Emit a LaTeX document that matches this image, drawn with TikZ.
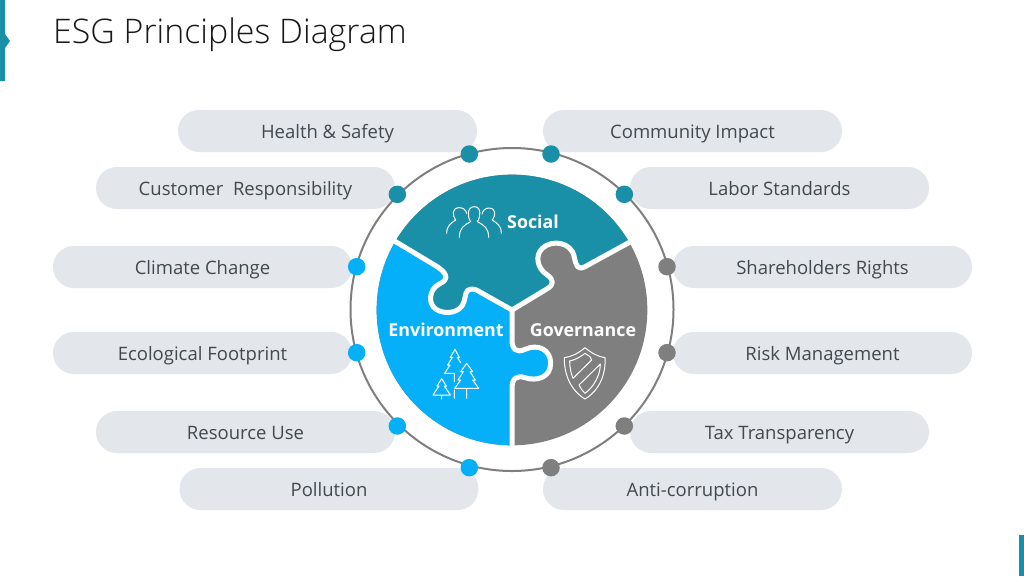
\documentclass[tikz,border=0pt]{standalone}
\usepackage{fontspec}
\setmainfont{Open Sans}
\newfontfamily\titlefont{Open Sans Light}
\definecolor{teal1}{HTML}{1A90A8}
\definecolor{blue1}{HTML}{05B0F8}
\definecolor{grey1}{HTML}{7F7F7F}
\definecolor{pill}{HTML}{E3E6EB}
\definecolor{ink}{HTML}{404A50}
\tikzset{
  pillbox/.style={fill=pill,rounded corners=20.9pt,minimum width=299pt,minimum height=42pt,inner sep=0pt,text=ink,text height=18.5pt,text depth=4pt,font=\fontsize{18.5}{22}\selectfont},
  dot/.style={circle,inner sep=0pt,minimum size=17.5pt},
  seg/.style={text=white,text height=16pt,text depth=4pt,font=\fontsize{17.8}{20}\selectfont\bfseries,inner sep=0pt},
  gap/.style={draw=white,line width=5pt,line join=round},
  icon/.style={draw=white,line width=1pt,line join=round,line cap=round},
  zoomed/.style={shift={(340,140)},x=0.33333pt,y=-0.33333pt}
}
\newcommand{\borderSE}{(150,295) -- (280,373) .. controls (322,397) and (330,417) .. (298,432) .. controls (268,447) and (262,490) .. (288,508) .. controls (315,525) and (362,520) .. (372,485) .. controls (378,465) and (375,448) .. (395,447) .. controls (405,447) and (410,450) .. (420,456) -- (516,510)}
\newcommand{\borderSG}{(516,510) -- (622,446) .. controls (642,434) and (642,420) .. (622,405) .. controls (590,385) and (585,345) .. (607,325) .. controls (635,298) and (695,305) .. (703,352) .. controls (708,375) and (712,392) .. (735,380) -- (890,295)}
\newcommand{\borderEG}{(516,510) -- (516,600) .. controls (516,628) and (530,640) .. (555,628) .. controls (595,610) and (632,630) .. (632,670) .. controls (632,712) and (590,725) .. (555,713) .. controls (530,705) and (516,715) .. (516,745) -- (516,930)}
\begin{document}
\begin{tikzpicture}[x=1pt,y=-1pt]
\useasboundingbox (0,0) rectangle (1024,576);
\fill[white] (0,0) rectangle (1024,576);
% accents
\fill[teal1] (0,0) -- (5,0) -- (5,34) -- (10,41) -- (5,48) -- (5,81) -- (0,81) -- cycle;
\fill[teal1] (1019,535) rectangle (1024,576);
\node[anchor=base west,inner sep=0pt,text=black!90] (title) at (53,43) {\titlefont\fontsize{33.9}{38}\selectfont ESG Principles Diagram};
% pills
\node[pillbox] (p1) at (327.5,131) {Health \& Safety};
\node[pillbox] (p2) at (245.5,188) {Customer\ \ Responsibility};
\node[pillbox] (p3) at (202.5,267) {Climate Change};
\node[pillbox] (p4) at (202.5,353) {Ecological Footprint};
\node[pillbox] (p5) at (245.5,432) {Resource Use};
\node[pillbox] (p6) at (329,489) {Pollution};
\node[pillbox] (p7) at (692.5,131) {Community Impact};
\node[pillbox] (p8) at (779.5,188) {Labor Standards};
\node[pillbox] (p9) at (822.5,267) {Shareholders Rights};
\node[pillbox] (p10) at (822.5,353) {Risk Management};
\node[pillbox] (p11) at (779.5,432) {Tax Transparency};
\node[pillbox] (p12) at (692.5,489) {Anti-corruption};
% ring
\node[circle,draw=grey1,line width=2pt,minimum size=323pt,inner sep=0pt] (ring) at (512,309.5) {};
% dots
\begin{scope}[zoomed]
\node[dot,fill=teal1] (d1) at (388,42) {};
\node[dot,fill=teal1] (d2) at (633,42) {};
\node[dot,fill=teal1] (d3) at (172,163) {};
\node[dot,fill=teal1] (d4) at (853,163) {};
\node[dot,fill=blue1] (d5) at (50,380) {};
\node[dot,fill=grey1] (d6) at (981,380) {};
\node[dot,fill=blue1] (d7) at (50,638) {};
\node[dot,fill=grey1] (d8) at (981,638) {};
\node[dot,fill=blue1] (d9) at (172,858) {};
\node[dot,fill=grey1] (d10) at (853,858) {};
\node[dot,fill=blue1] (d11) at (388,983) {};
\node[dot,fill=grey1] (d12) at (633,983) {};
% puzzle
\begin{scope}
\clip (516,510) circle [radius=406];
\fill[grey1] (0,0) rectangle (1020,1020);
\fill[blue1] \borderSE -- \borderEG -- (0,930) -- (0,295) -- cycle;
\fill[teal1] \borderSE -- \borderSG -- (890,0) -- (150,0) -- cycle;
\end{scope}
\draw[gap] \borderSE;
\draw[gap] \borderSG;
\draw[gap] \borderEG;
% people
\draw[icon] (358,292) .. controls (358,265) and (372,255) .. (392,245) .. controls (382,232) and (380,200) .. (403,200) .. controls (425,200) and (422,232) .. (412,245) .. controls (432,255) and (446,265) .. (446,292);
\draw[icon] (320,280) .. controls (320,258) and (332,250) .. (347,240) .. controls (336,225) and (336,203) .. (358,203) .. controls (370,203) and (378,210) .. (380,220);
\draw[icon] (484,280) .. controls (484,258) and (472,250) .. (457,240) .. controls (468,225) and (468,205) .. (447,204) .. controls (436,204) and (428,212) .. (426,222);
% trees
\draw[icon] (380,670) -- (362,695) -- (370,695) -- (354,720) -- (362,720) -- (344,745) -- (416,745) -- (398,720) -- (406,720) -- (390,695) -- (398,695) -- cycle (380,745) -- (380,775);
\draw[icon] (343,725) -- (343,700) -- (314,700) -- (330,675) -- (323,675) -- (337,652) -- (331,652) -- (345,628) -- (358,652) -- (352,652) -- (362,668) (343,750) -- (343,775);
\draw[icon] (305,716) -- (291,738) -- (297,738) -- (279,765) -- (331,765) -- (313,738) -- (319,738) -- cycle (305,765) -- (305,777);
% shield
\draw[icon] (735,623) .. controls (715,640) and (695,650) .. (673,653) .. controls (672,700) and (690,750) .. (735,777) .. controls (780,750) and (798,700) .. (795,653) .. controls (775,650) and (755,640) .. cycle;
\draw[icon] (735,640) .. controls (722,650) and (705,660) .. (689,663) .. controls (689,682) and (693,700) .. (699,715) -- (755,660) -- (750,650) -- cycle;
\draw[icon] (781,672) .. controls (781,705) and (762,740) .. (735,760) .. controls (727,753) and (722,745) .. (717,735) -- cycle;
\end{scope}
\node[seg] (social) at (533,222) {Social};
\node[seg] (env) at (446,330) {Environment};
\node[seg] (gov) at (583,330) {Governance};
\end{tikzpicture}
\end{document}
